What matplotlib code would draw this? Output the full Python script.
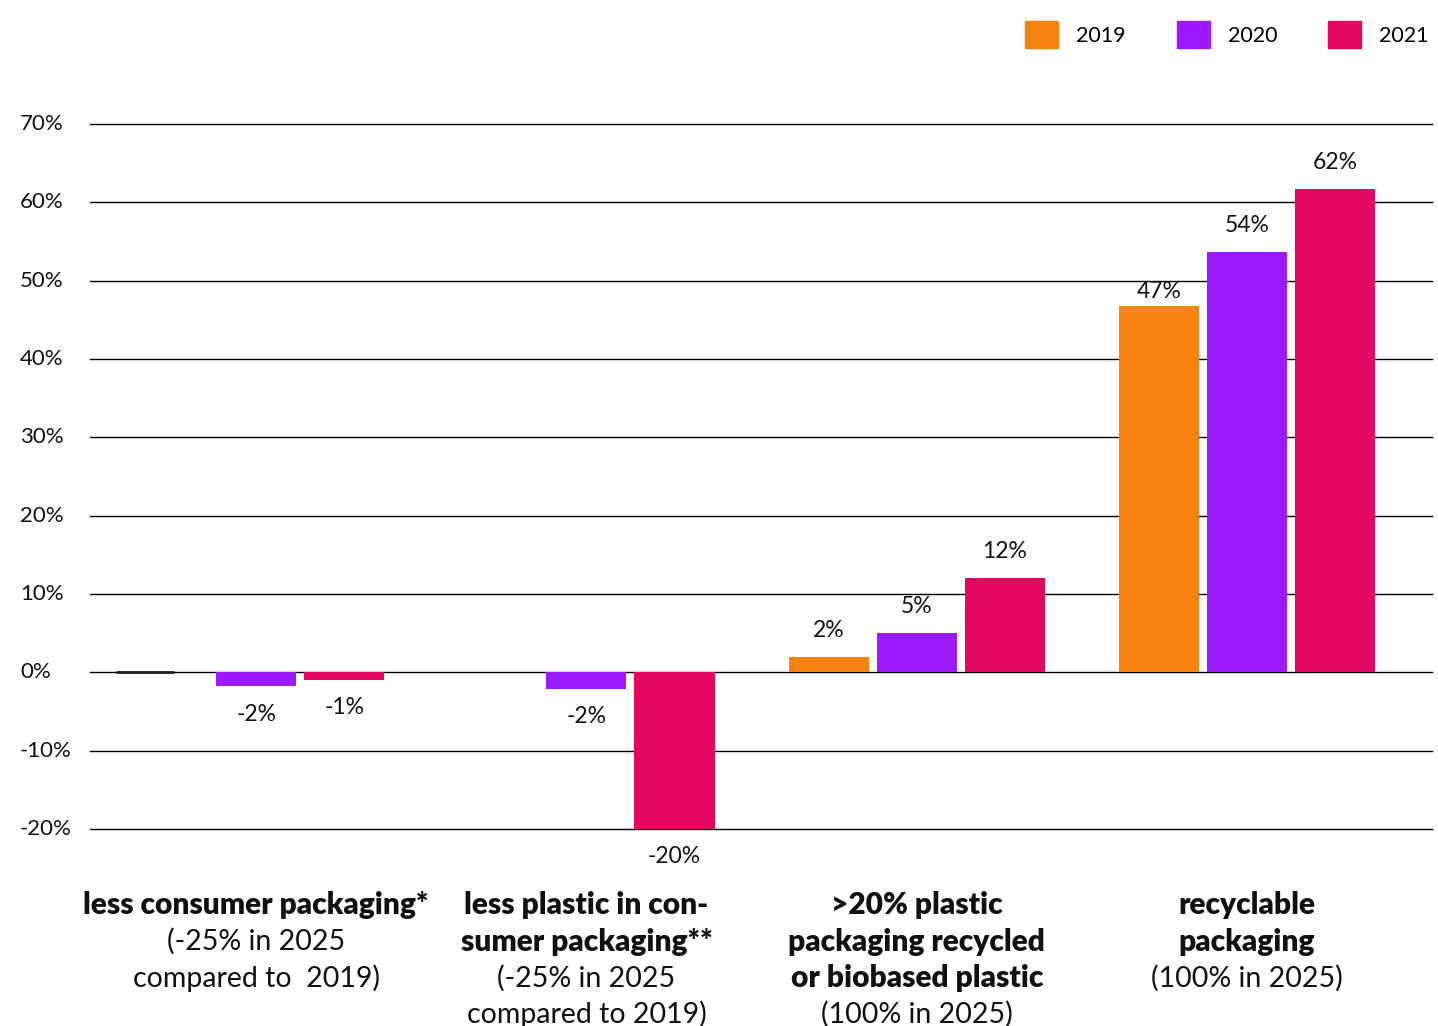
import numpy as np
import matplotlib.pyplot as plt
from matplotlib.transforms import blended_transform_factory
from matplotlib.patches import Patch

plt.rcParams['font.family'] = ['Lato', 'DejaVu Sans']

years = ["2019", "2020", "2021"]
colors = ["#F8820F", "#9D19FE", "#E3075F"]

# values per year, one entry per category group
v2019 = [0.0, 0.0, 2.0, 46.8]
v2020 = [-1.8, -2.1, 5.0, 53.7]
v2021 = [-1.0, -20.0, 12.0, 61.7]
labels2019 = ["", "", "2%", "47%"]
labels2020 = ["-2%", "-2%", "5%", "54%"]
labels2021 = ["-1%", "-20%", "12%", "62%"]

cat_bold = [
    ["less consumer packaging*"],
    ["less plastic in con-", "sumer packaging**"],
    [">20% plastic", "packaging recycled", "or biobased plastic"],
    ["recyclable", "packaging"],
]
cat_regular = [
    ["(-25% in 2025", "compared to  2019)"],
    ["(-25% in 2025", "compared to 2019)"],
    ["(100% in 2025)"],
    ["(100% in 2025)"],
]

yticks = [-20, -10, 0, 10, 20, 30, 40, 50, 60, 70]

W, H = 1438, 1026
fig = plt.figure(figsize=(W / 100, H / 100), dpi=100)
ax = fig.add_axes([90 / W, 1 - 829 / H, (1432 - 90) / W, (829 - 124) / H])

x = np.arange(len(v2019))
step = 88 / 330
width = 80 / 330
series = [(v2019, labels2019), (v2020, labels2020), (v2021, labels2021)]
for k, (vals, labs) in enumerate(series):
    xs = x + (k - 1) * step
    ax.bar(xs, vals, width=width, color=colors[k], zorder=3, label=years[k])
    for xi, v, lab in zip(xs, vals, labs):
        if not lab:
            continue
        off = 19 if v >= 0 else -20
        if lab == "47%":  # sits lower in the original
            off = 10
        ax.annotate(lab, (xi, v), xytext=(0, off), textcoords="offset points",
                    ha="center", va="center", fontsize=16.5, color="#111111")

ax.set_xlim(-0.503, 3.56)
ax.set_ylim(-20, 70)
for t in yticks:
    ax.axhline(t, color="black", lw=1.0, zorder=1, clip_on=False)
# thin dark stub where the 2019 bar of the first group is zero
ax.plot([-0.424, -0.25], [0, 0], color="#222222", lw=2, zorder=4, solid_capstyle="butt")

ax.set_xticks([])
ax.set_yticks([])
for s in ax.spines.values():
    s.set_visible(False)

for t in yticks:
    fig.text(20 / W, ax.transData.transform((0, t))[1] / H, f"{t}%",
             ha="left", va="center", fontsize=16, color="#111111")

# category labels
tr = blended_transform_factory(ax.transData, fig.transFigure)
line_h = 36.5
for i in range(len(cat_bold)):
    y = 905
    for line in cat_bold[i]:
        ax.text(x[i], 1 - y / H, line, transform=tr, ha="center", va="center",
                fontsize=21.5, fontweight="heavy", color="#111111")
        y += line_h
    for line in cat_regular[i]:
        ax.text(x[i], 1 - y / H, line, transform=tr, ha="center", va="center",
                fontsize=20.5, color="#111111")
        y += line_h

handles = [Patch(color=c) for c in colors]
fig.legend(handles, years, loc="upper right", bbox_to_anchor=(1448 / W, 1 - 2 / H),
           ncol=3, frameon=False, fontsize=15.5, handlelength=1.53, handleheight=1.53,
           handletextpad=0.85, columnspacing=2.35)

fig.savefig("out.png", dpi=100)
